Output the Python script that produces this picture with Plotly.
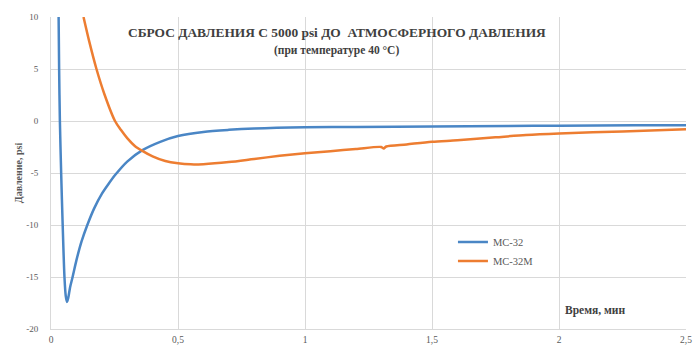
import plotly.graph_objects as go

# Time, minutes
t_mc32 = [0.030, 0.032, 0.035, 0.040, 0.046, 0.053, 0.058, 0.063, 0.068, 0.075,
          0.085, 0.100, 0.120, 0.143, 0.170, 0.200, 0.225, 0.254, 0.300, 0.360,
          0.430, 0.500, 0.600, 0.700, 0.800, 1.000, 1.200, 1.500, 1.800, 2.000,
          2.300, 2.500]
p_mc32 = [10.0, 5.0, 0.0, -5.0, -10.0, -15.0, -16.8, -17.4, -17.0, -16.0,
          -15.0, -13.4, -11.6, -10.0, -8.4, -7.0, -6.1, -5.15, -3.9, -2.8,
          -2.0, -1.45, -1.05, -0.85, -0.72, -0.6, -0.57, -0.52, -0.48, -0.45,
          -0.42, -0.4]

t_mc32m = [0.128, 0.150, 0.179, 0.210, 0.252, 0.275, 0.300, 0.330, 0.358, 0.400,
           0.450, 0.500, 0.550, 0.600, 0.700, 0.800, 0.900, 1.000, 1.100, 1.200,
           1.300, 1.310, 1.320, 1.400, 1.500, 1.600, 1.750, 1.870, 2.000, 2.250,
           2.500]
p_mc32m = [10.0, 7.7, 5.0, 2.6, 0.0, -0.85, -1.65, -2.4, -2.85, -3.4,
           -3.85, -4.07, -4.17, -4.15, -3.95, -3.65, -3.35, -3.1, -2.9, -2.7,
           -2.5, -2.65, -2.45, -2.25, -2.0, -1.85, -1.57, -1.35, -1.2, -1.0,
           -0.8]

x_ticks = [0, 0.5, 1, 1.5, 2, 2.5]
x_tick_labels = ["0", "0,5", "1", "1,5", "2", "2,5"]
y_ticks = [10, 5, 0, -5, -10, -15, -20]
y_tick_labels = ["10", "5", "0", "-5", "-10", "-15", "-20"]

FONT = "Liberation Serif"
GRID = "#d9d9d9"
TXT = "#595959"
DARK = "#404040"

fig = go.Figure()
fig.add_trace(go.Scatter(x=t_mc32, y=p_mc32, mode="lines", name="MC-32",
                         line=dict(color="#4a86c5", width=2.5, shape="spline", smoothing=0.8)))
fig.add_trace(go.Scatter(x=t_mc32m, y=p_mc32m, mode="lines", name="MC-32M",
                         line=dict(color="#ed7d31", width=2.5, shape="spline", smoothing=0.8)))

fig.update_layout(
    width=699, height=352,
    margin=dict(l=51, r=7, t=17, b=23),
    paper_bgcolor="white", plot_bgcolor="white",
    font=dict(family=FONT, size=9, color=TXT),
    showlegend=True,
    legend=dict(x=0.633, y=0.325, xanchor="left", yanchor="top",
                bgcolor="rgba(0,0,0,0)", font=dict(family=FONT, size=10.5, color=TXT),
                itemwidth=30, tracegroupgap=0),
    xaxis=dict(range=[0, 2.5], tickvals=x_ticks, ticktext=x_tick_labels,
               showgrid=True, gridcolor=GRID, gridwidth=1, zeroline=False,
               showline=True, linecolor=GRID, ticks="", ticklabelstandoff=2,
               tickfont=dict(family=FONT, size=9.5, color=TXT)),
    yaxis=dict(range=[-20, 10], tickvals=y_ticks, ticktext=y_tick_labels,
               showgrid=True, gridcolor=GRID, gridwidth=1, zeroline=False,
               showline=True, linecolor=GRID, ticks="", ticklabelstandoff=10,
               tickfont=dict(family=FONT, size=9, color=TXT),
               title=dict(text="<b>Давление, psi</b>", standoff=1,
                          font=dict(family=FONT, size=10, color=TXT))),
    annotations=[
        dict(text="<b>СБРОС ДАВЛЕНИЯ С 5000 psi ДО  АТМОСФЕРНОГО ДАВЛЕНИЯ</b>",
             xref="paper", yref="paper", x=0.45, y=0.95, xanchor="center", yanchor="middle",
             showarrow=False, font=dict(family=FONT, size=13.4, color=DARK)),
        dict(text="<b>(при температуре 40 °C)</b>",
             xref="paper", yref="paper", x=0.45, y=0.893, xanchor="center", yanchor="middle",
             showarrow=False, font=dict(family=FONT, size=11.5, color=DARK)),
        dict(text="<b>Время, мин</b>",
             xref="paper", yref="paper", x=0.806, y=0.06, xanchor="left", yanchor="middle",
             showarrow=False, font=dict(family=FONT, size=11.5, color=DARK)),
    ],
)

fig.write_html("out.html")
